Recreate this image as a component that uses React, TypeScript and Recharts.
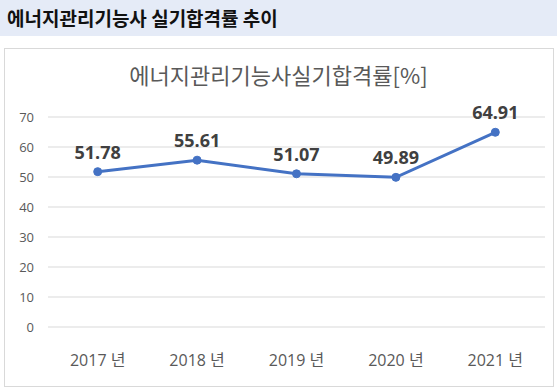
import React from "react";
import { LineChart, Line, XAxis, YAxis, CartesianGrid, LabelList } from "recharts";

const years = ["2017 년", "2018 년", "2019 년", "2020 년", "2021 년"];
const passRates = [51.78, 55.61, 51.07, 49.89, 64.91];
const yTicks = [0, 10, 20, 30, 40, 50, 60, 70];

const chartData = years.map((year, i) => ({ year, rate: passRates[i] }));

const font = '"Open Sans", "Noto Sans CJK KR", sans-serif';

export default function App() {
  return (
    <div
      style={{
        position: "absolute",
        left: 0,
        top: 0,
        width: 557,
        height: 389,
        background: "#fff",
        fontFamily: font,
        overflow: "hidden",
      }}
    >
      {/* header band */}
      <div
        style={{
          position: "absolute",
          left: 0,
          top: 0,
          width: 557,
          height: 36,
          background: "#e5ebf7",
        }}
      >
        <div
          style={{
            position: "absolute",
            left: 7,
            top: 5,
            fontSize: 19,
            fontWeight: 700,
            color: "#111",
            fontFamily: '"Noto Sans CJK KR", sans-serif',
            lineHeight: "26px",
          }}
        >
          에너지관리기능사 실기합격률 추이
        </div>
      </div>

      {/* chart frame */}
      <div
        style={{
          position: "absolute",
          left: 4,
          top: 48,
          width: 548,
          height: 337,
          border: "1px solid #d9d9d9",
        }}
      />

      <div
        style={{
          position: "absolute",
          left: 0,
          top: 59,
          width: 557,
          textAlign: "center",
          fontSize: 22,
          color: "#595959",
          fontFamily: '"Noto Sans CJK KR", sans-serif',
          lineHeight: "30px",
        }}
      >
        에너지관리기능사실기합격률[%]
      </div>

      <div style={{ position: "absolute", left: 0, top: 0 }}>
        <LineChart
          width={557}
          height={389}
          data={chartData}
          margin={{ top: 117, right: 12, bottom: 32, left: 8 }}
        >
          <CartesianGrid vertical={false} stroke="#d9d9d9" strokeWidth={1} />
          <XAxis
            dataKey="year"
            axisLine={false}
            tickLine={false}
            tickSize={0}
            tickMargin={28}
            height={30}
            padding={{ left: 49.7, right: 49.7 }}
            tick={{ fill: "#595959", fontSize: 16, fontFamily: font }}
            interval={0}
          />
          <YAxis
            domain={[0, 70]}
            ticks={yTicks}
            width={40}
            axisLine={false}
            tickLine={false}
            tickSize={0}
            tickMargin={14}
            tick={{ fill: "#595959", fontSize: 13, fontFamily: font }}
          />
          <Line
            type="linear"
            dataKey="rate"
            stroke="#4472c4"
            strokeWidth={3}
            dot={{ r: 4, fill: "#4472c4", stroke: "#4472c4", strokeWidth: 1 }}
            isAnimationActive={false}
          >
            <LabelList
              dataKey="rate"
              position="top"
              offset={13}
              fill="#404040"
              fontSize={18}
              fontWeight={700}
              fontFamily={font}
            />
          </Line>
        </LineChart>
      </div>
    </div>
  );
}
